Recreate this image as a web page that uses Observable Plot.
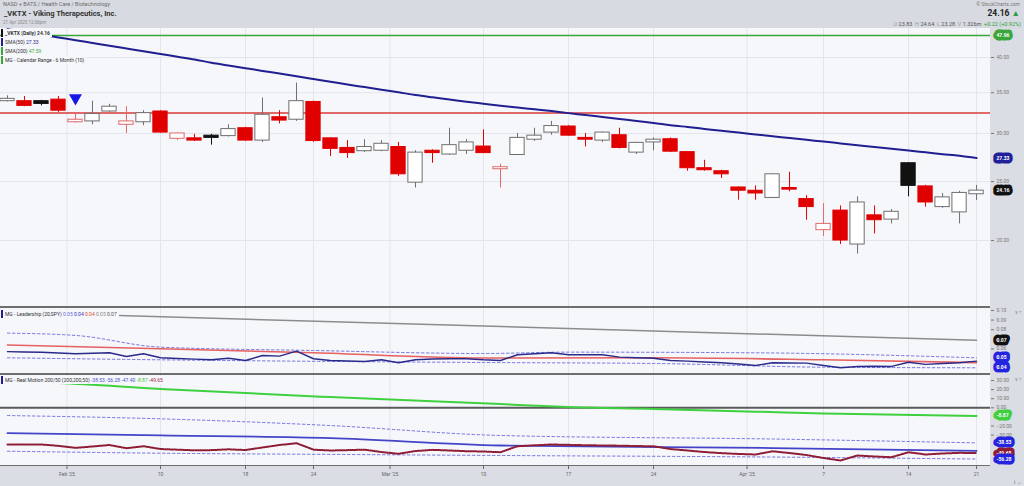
<!DOCTYPE html>
<html><head><meta charset="utf-8">
<script src="https://cdn.jsdelivr.net/npm/d3@7"></script>
<script src="https://cdn.jsdelivr.net/npm/@observablehq/plot@0.6"></script>
<style>
body{margin:0;width:1024px;height:486px;overflow:hidden;background:#dadde3;font-family:Roboto,"Noto Sans",sans-serif;position:relative}
#hdr{position:absolute;left:0;top:0;width:1024px;height:28px;background:#d7dbe1}
.t{position:absolute;white-space:nowrap;line-height:1}
#bg{position:absolute;left:0;top:28px;width:990px;height:438px;background:#f6f7fb}
.pl{position:absolute;left:0}
.sep{position:absolute;left:0;width:990px;height:2px;background:#6e6e6e}
.lg{position:absolute;left:1px;font-size:5px;line-height:8px;height:8px;white-space:nowrap;background:#f6f7fb;padding:0 2px 0 2px;color:#333;border-left:2px solid #111}
</style></head>
<body>
<div id="hdr"></div>
<div class="t" style="left:3px;top:2px;font-size:5.5px;color:#6a6a6a">NASD + BATS / Health Care / Biotechnology</div>
<div class="t" style="left:4px;top:10px;font-size:7.5px;font-weight:bold;color:#333">_VKTX - Viking Therapeutics, Inc.</div>
<div class="t" style="left:3px;top:20.5px;font-size:4.5px;color:#8a8a8a">21 Apr 2025 12:06pm</div>
<div class="t" style="right:4px;top:1.5px;font-size:5px;color:#777">© StockCharts.com</div>
<div class="t" style="right:4px;top:9px;font-size:8.5px;font-weight:bold;color:#222">24.16 <span style="color:#2a9d3a">▲</span></div>
<div class="t" style="right:3px;top:22px;font-size:5.5px;color:#555"><span style="color:#999">O</span> 23.83 &nbsp;<span style="color:#999">H</span> 24.64 &nbsp;<span style="color:#999">L</span> 23.28 &nbsp;<span style="color:#999">V</span> 1.326m &nbsp;<span style="color:#2a9d3a">+0.22 (+0.92%)</span></div>
<div id="bg"></div>
<div id="p1" class="pl" style="top:28px"></div>
<div id="p2" class="pl" style="top:307px"></div>
<div id="p3" class="pl" style="top:374px"></div>
<div class="sep" style="top:306px"></div>
<div class="sep" style="top:373px"></div>
<div class="sep" style="top:465px;height:1px"></div>
<div class="lg" style="top:29px;font-weight:bold">_VKTX (Daily) 24.16</div>
<div class="lg" style="top:38px;border-color:#1f1f8f">SMA(50) <span style="color:#1f1f8f">27.33</span></div>
<div class="lg" style="top:47px;border-color:#3aa53a">SMA(200) <span style="color:#3aa53a">47.59</span></div>
<div class="lg" style="top:56px;border-color:#3aa53a">MG - Calendar Range - 6 Month (10)</div>
<div class="lg" style="top:310px;border-color:#1f1f8f">MG - Leadership (20,SPY) <span style="color:#6a6ae0">0.05</span> <span style="color:#3434c0">0.04</span> <span style="color:#e04a2a">0.04</span> <span style="color:#888">0.05</span> <span style="color:#555">0.07</span></div>
<div class="lg" style="top:375.5px;border-color:#1f1f8f">MG - Real Motion 200/50 (200,200,50) <span style="color:#5050d0">-38.53</span> <span style="color:#5050d0">-56.28</span> <span style="color:#5050d0">-47.40</span> <span style="color:#3cc83c">-8.87</span> <span style="color:#a02040">-49.65</span></div>
<script>
// ---------- data ----------
const dates = ["2025-01-28","2025-01-29","2025-01-30","2025-01-31","2025-02-03","2025-02-04","2025-02-05","2025-02-06","2025-02-07",
"2025-02-10","2025-02-11","2025-02-12","2025-02-13","2025-02-14","2025-02-18","2025-02-19","2025-02-20","2025-02-21",
"2025-02-24","2025-02-25","2025-02-26","2025-02-27","2025-02-28","2025-03-03","2025-03-04","2025-03-05","2025-03-06","2025-03-07",
"2025-03-10","2025-03-11","2025-03-12","2025-03-13","2025-03-14","2025-03-17","2025-03-18","2025-03-19","2025-03-20","2025-03-21",
"2025-03-24","2025-03-25","2025-03-26","2025-03-27","2025-03-28","2025-03-31","2025-04-01","2025-04-02","2025-04-03","2025-04-04",
"2025-04-07","2025-04-08","2025-04-09","2025-04-10","2025-04-11","2025-04-14","2025-04-15","2025-04-16","2025-04-17","2025-04-21"];
const open  = [33.9,33.9,33.9,34.1,31.3,31.4,32.6,31.0,31.3,32.6,29.4,29.45,29.75,29.7,30.6,29.2,31.9,31.6,33.8,29.45,28.4,28.05,28.1,28.5,24.9,28.1,27.7,28.1,28.55,26.2,27.65,29.3,30.1,30.8,29.5,29.2,29.8,27.9,29.0,29.35,27.95,26.3,26.0,24.45,24.15,23.5,24.4,23.4,20.8,22.4,19.7,22.0,21.65,26.8,24.55,22.7,22.25,23.83];
const high  = [34.6,34.5,34.0,34.5,32.45,33.9,33.5,33.2,32.7,32.7,30.05,29.9,29.9,31.0,30.7,34.3,32.7,36.3,33.9,29.5,29.2,29.3,29.2,29.0,28.1,28.2,30.6,29.3,30.4,26.7,30.0,30.6,31.4,30.9,30.0,30.15,30.6,29.0,29.5,29.5,28.0,27.1,26.1,24.5,24.6,25.75,25.9,23.7,23.0,22.8,23.6,22.8,22.5,26.85,24.65,23.9,24.1,24.64];
const low   = [33.8,33.2,33.3,32.5,31.2,31.0,32.5,30.0,30.9,30.0,29.2,29.1,28.7,29.6,29.1,29.0,31.1,31.4,29.0,27.5,27.3,27.9,28.0,25.5,24.4,26.8,27.6,27.7,27.8,24.4,27.6,29.1,29.8,29.7,28.5,29.0,28.3,27.7,28.1,27.9,26.0,26.0,25.3,23.3,23.3,23.45,24.05,21.6,20.3,19.7,19.0,20.5,21.3,23.6,22.7,22.6,21.3,23.28];
const close = [34.2,33.3,33.55,32.7,31.6,32.3,33.2,31.4,32.4,30.1,30.0,29.2,29.5,30.5,29.2,32.2,31.5,33.9,29.15,28.3,27.85,28.5,28.85,25.7,27.9,27.85,28.7,29.0,27.85,26.4,29.5,29.75,30.85,29.75,29.3,30.1,28.4,28.95,29.3,28.0,26.3,26.1,25.7,24.15,23.9,25.7,24.25,22.7,21.3,20.0,23.1,21.6,22.3,24.6,23.1,23.55,23.95,24.16];
const sma50 = [44.52,44.06,43.61,43.15,42.71,42.26,41.83,41.39,40.95,40.53,40.11,39.70,39.22,38.81,38.41,38.02,37.65,37.25,36.87,36.50,36.11,35.76,35.41,35.06,34.70,34.40,34.12,33.83,33.58,33.33,33.10,32.87,32.65,32.40,32.17,31.93,31.69,31.45,31.22,30.96,30.74,30.52,30.30,30.10,29.89,29.69,29.48,29.28,29.09,28.89,28.69,28.51,28.32,28.12,27.93,27.74,27.56,27.33];
const calendarRange = [43.48, 32.42];        // upper (green), lower (red)
const signalDates = ["2025-02-03"];
const signalPrice = [34.3];
const priceTicks = [20, 25, 30, 35, 40];

const leadership = [0.0571,0.0568,0.0565,0.0557,0.0549,0.0554,0.0559,0.0521,0.0549,0.0507,0.0500,0.0493,0.0486,0.0503,0.0479,0.0531,0.0524,0.0576,0.0497,0.0479,0.0474,0.0469,0.0486,0.0455,0.0486,0.0495,0.0497,0.0497,0.0486,0.0479,0.0539,0.0549,0.0559,0.0539,0.0539,0.0539,0.0514,0.0508,0.0503,0.0479,0.0472,0.0464,0.0455,0.0443,0.0427,0.0455,0.0453,0.0451,0.0427,0.0403,0.0417,0.0419,0.0417,0.0461,0.0438,0.0448,0.0455,0.0472];
const leadGrayDates = ["2025-01-28","2025-03-10","2025-04-21"];
const leadGray = [0.0981, 0.0838, 0.0689];
const leadRedDates = ["2025-01-28","2025-02-10","2025-02-24","2025-03-10","2025-03-24","2025-04-07","2025-04-21"];
const leadRed = [0.0641, 0.0601, 0.0559, 0.0505, 0.0507, 0.0486, 0.0457];
const leadUpperDates = ["2025-01-28","2025-02-03","2025-02-10","2025-02-24","2025-03-10","2025-03-17","2025-04-01","2025-04-21"];
const leadUpper = [0.0764, 0.0740, 0.0618, 0.0583, 0.0552, 0.0566, 0.0559, 0.0507];
const leadLowerDates = ["2025-01-28","2025-02-10","2025-03-10","2025-03-24","2025-04-07","2025-04-21"];
const leadLower = [0.0507, 0.0486, 0.0458, 0.0448, 0.0409, 0.0403];
const leadTicks = [0.06, 0.08, 0.09, 0.10];

const realMotion = [-40.3,-40.3,-40.3,-41.8,-44.0,-42.5,-40.9,-44.4,-42.2,-45.3,-46.0,-46.7,-46.5,-45.6,-46.4,-43.6,-40.9,-38.9,-46.0,-46.9,-46.5,-46.0,-48.6,-50.5,-47.5,-46.2,-46.9,-47.7,-48.0,-48.8,-42.2,-41.2,-40.3,-40.7,-41.1,-41.4,-41.6,-42.0,-42.3,-45.3,-46.9,-48.6,-49.8,-50.7,-51.3,-47.8,-49.7,-51.9,-55.2,-57.9,-52.4,-53.5,-54.3,-48.8,-51.3,-50.2,-49.5,-49.65];
const rmGreenDates = ["2025-01-28","2025-01-31","2025-02-10","2025-02-25","2025-03-11","2025-03-17","2025-03-24","2025-04-01","2025-04-07","2025-04-21"];
const rmGreen = [29.1, 27.3, 20.7, 11.8, 4.1, 0.9, -1.2, -4.2, -6.3, -8.87];
const rmBandDates = ["2025-01-28","2025-02-10","2025-02-25","2025-03-11","2025-04-02","2025-04-21"];
const rmUpper = [-8.5, -12.1, -19.5, -30.4, -34.3, -38.53];
const rmMid = [-27.9, -30.4, -33.4, -41.4, -44.2, -47.40];
const rmLower = [-47.7, -49.9, -51.2, -52.4, -54.1, -56.28];
const rmTicks = [30, 20, 10, 0, -20, -30];

const xTickDates = ["2025-02-03","2025-02-10","2025-02-18","2025-02-24","2025-03-03","2025-03-10","2025-03-17","2025-03-24","2025-04-01","2025-04-07","2025-04-14","2025-04-21"];
const xTickLabels = ["Feb '25","10","18","24","Mar '25","10","17","24","Apr '25","7","14","21"];

// ---------- helpers ----------
const N = dates.length;
const ix = d => dates.indexOf(d);
const xTickPos = xTickDates.map((d, k) => ix(d) - (xTickLabels[k].includes("'") ? 0.5 : 0));
const labelAt = new Map(xTickPos.map((p, k) => [p, xTickLabels[k]]));
const series = (ds, vs) => ds.map((d, k) => ({i: ix(d), v: vs[k]}));
const daily = vs => vs.map((v, i) => ({i, v}));
const X = {type: "linear", domain: [-0.41, N - 1 + 0.82], axis: null};
const base = {width: 1024, marginLeft: 0, marginRight: 34, marginTop: 0, style: {background: "transparent", fontFamily: "Roboto, 'Noto Sans', sans-serif"}};
const GRID = "#e3e5eb";
const tag = (list) => Plot.text(list, {y: "v", text: "label", frameAnchor: "right", textAnchor: "start", dx: 6,
  fill: "white", stroke: "color", strokeWidth: 7, strokeLinejoin: "round", paintOrder: "stroke", fontSize: 5, fontWeight: "bold"});
const axisR = (ticks, fmt) => Plot.axisY(ticks, {anchor: "right", tickSize: 3, tickPadding: 3, fontSize: 5, color: "#777", tickFormat: fmt});

// ---------- price panel ----------
const candles = d3.range(N).map(i => {
  const o = open[i], c = close[i], pc = i > 0 ? close[i - 1] : o;
  const red = c < pc, hollow = c >= o;
  return {i, o, h: high[i], l: low[i], c,
    fill: hollow ? "#ffffff" : (red ? "#e00000" : "#111111"),
    stroke: hollow ? (red ? "#e06a6a" : "#6f6f6f") : (red ? "#e00000" : "#111111")};
});
const p1 = Plot.plot({...base, height: 279, marginBottom: 0, x: X,
  y: {type: "log", domain: [15.52, 44.64], axis: null},
  marks: [
    Plot.ruleY(priceTicks, {stroke: GRID}),
    Plot.ruleX(xTickPos, {stroke: GRID}),
    Plot.ruleY(calendarRange, {stroke: (d, k) => k === 0 ? "#3aa53a" : "#d83a3a", strokeWidth: 1.5, clip: true}),
    Plot.ruleX(candles, {x: "i", y1: "l", y2: "h", stroke: "stroke", strokeWidth: 1, clip: true}),
    Plot.rect(candles, {x1: d => d.i - 0.42, x2: d => d.i + 0.42, y1: "o", y2: "c", fill: "fill", stroke: "stroke", strokeWidth: 1, clip: true}),
    Plot.line(daily(sma50), {x: "i", y: "v", stroke: "#1f1f8f", strokeWidth: 2, curve: "monotone-x", clip: true}),
    Plot.dot(series(signalDates, signalPrice), {x: "i", y: "v", symbol: "triangle", rotate: 180, r: 4.8, fill: "#1616e6", stroke: "none"}),
    axisR(priceTicks, d3.format(".2f")),
    tag([{v: calendarRange[0], label: "47.96", color: "#3aa53a"}, {v: sma50[N - 1], label: "27.33", color: "#1f1f9a"}, {v: close[N - 1], label: "24.16", color: "#111"}])
  ]});
document.getElementById("p1").append(p1);

// ---------- leadership panel ----------
const p2 = Plot.plot({...base, height: 67, marginBottom: 0, x: X,
  y: {domain: [0.0333, 0.1031], axis: null},
  marks: [
    Plot.ruleX(xTickPos, {stroke: GRID}),
    Plot.line(series(leadGrayDates, leadGray), {x: "i", y: "v", stroke: "#8c8c8c", strokeWidth: 1.5}),
    Plot.line(series(leadUpperDates, leadUpper), {x: "i", y: "v", stroke: "#7272e0", strokeWidth: 1, strokeDasharray: "2.5,2.5", curve: "monotone-x"}),
    Plot.line(series(leadLowerDates, leadLower), {x: "i", y: "v", stroke: "#7272e0", strokeWidth: 1, strokeDasharray: "2.5,2.5", curve: "monotone-x"}),
    Plot.line(series(leadRedDates, leadRed), {x: "i", y: "v", stroke: "#e45050", strokeWidth: 1.6, strokeOpacity: 0.9, curve: "monotone-x"}),
    Plot.line(daily(leadership), {x: "i", y: "v", stroke: "#2a2a8a", strokeWidth: 1.4}),
    axisR(leadTicks, d3.format(".2f")),
    tag([{v: leadGray[leadGray.length - 1], label: "0.07", color: "#111"}, {v: leadUpper[leadUpper.length - 1], label: "0.05", color: "#2424e0"}, {v: leadLower[leadLower.length - 1], label: "0.04", color: "#2424e0"}])
  ]});
document.getElementById("p2").append(p2);

// ---------- real motion panel + x axis ----------
const p3 = Plot.plot({...base, height: 112, marginBottom: 20, x: X,
  y: {domain: [-64.5, 36.6], axis: null},
  marks: [
    Plot.ruleX(xTickPos, {stroke: GRID}),
    Plot.ruleY([0], {stroke: "#5a5a5a", strokeWidth: 2}),
    Plot.line(series(rmGreenDates, rmGreen), {x: "i", y: "v", stroke: "#3fd03f", strokeWidth: 2, curve: "monotone-x"}),
    Plot.line(series(rmBandDates, rmUpper), {x: "i", y: "v", stroke: "#7272e0", strokeWidth: 1, strokeDasharray: "2.5,2.5", curve: "monotone-x"}),
    Plot.line(series(rmBandDates, rmLower), {x: "i", y: "v", stroke: "#7272e0", strokeWidth: 1, strokeDasharray: "2.5,2.5", curve: "monotone-x"}),
    Plot.line(series(rmBandDates, rmMid), {x: "i", y: "v", stroke: "#4444c8", strokeWidth: 1.8, curve: "monotone-x"}),
    Plot.line(daily(realMotion), {x: "i", y: "v", stroke: "#8e1c34", strokeWidth: 2, strokeDasharray: "1,1.2"}),
    axisR(rmTicks, d3.format(".2f")),
    Plot.axisX(xTickPos, {anchor: "bottom", tickSize: 3, tickPadding: 3, fontSize: 5, color: "#666", tickFormat: d => labelAt.get(d)}),
    tag([{v: rmGreen[rmGreen.length - 1], label: "-8.87", color: "#3fcf3f"}, {v: rmUpper[rmUpper.length - 1], label: "-38.53", color: "#2424e0"},
         {v: realMotion[N - 1], label: "-49.65", color: "#8e1c34"}, {v: rmLower[rmLower.length - 1], label: "-56.28", color: "#2424e0"}])
  ]});
document.getElementById("p3").append(p3);
</script>
</body></html>
